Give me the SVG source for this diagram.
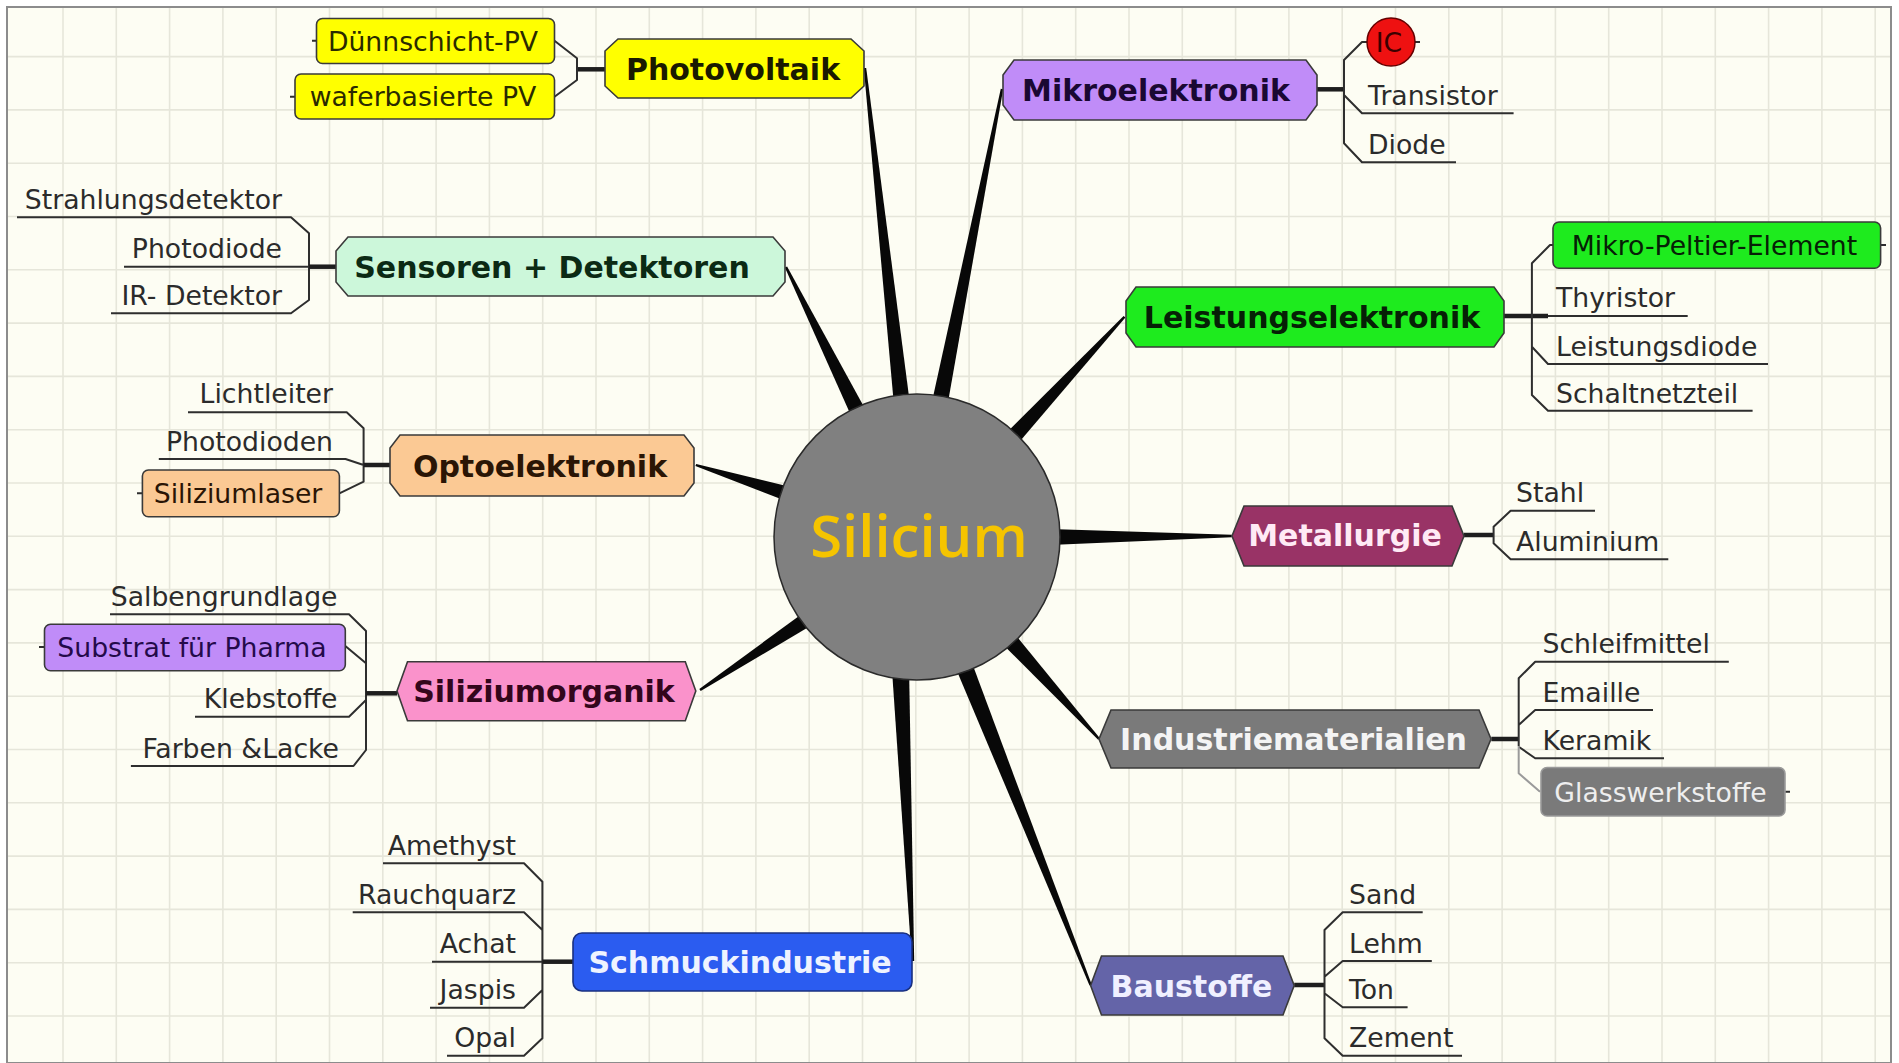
<svg xmlns="http://www.w3.org/2000/svg" width="1899" height="1063" viewBox="0 0 1899 1063">
<style>
.sub{font-family:"DejaVu Sans",Verdana,sans-serif;font-size:26.7px;fill:#2b2b2b}
.main{font-family:"DejaVu Sans",Verdana,sans-serif;font-weight:bold;font-size:30px;text-anchor:middle}
.mid{text-anchor:middle}
.end{text-anchor:end}
.br{fill:none;stroke:#2e2e2e;stroke-width:2;stroke-linejoin:round}
.thick{fill:none;stroke:#1e1e1e;stroke-width:4.5}
.wedge{fill:#080808}
.box{stroke:#3a3a3a;stroke-width:1.6}
.grid{fill:none;stroke:#E6E6DA;stroke-width:1.6}
</style>
<rect x="0" y="0" width="1899" height="1063" fill="#ffffff"/>
<rect x="7" y="7" width="1884" height="1056" fill="#FDFDF3"/>
<path class="grid" d="M63 7V1063M116.3 7V1063M169.6 7V1063M222.9 7V1063M276.2 7V1063M329.5 7V1063M382.8 7V1063M436.1 7V1063M489.4 7V1063M542.7 7V1063M596 7V1063M649.3 7V1063M702.6 7V1063M755.9 7V1063M809.2 7V1063M862.5 7V1063M915.8 7V1063M969.1 7V1063M1022.4 7V1063M1075.7 7V1063M1129 7V1063M1182.3 7V1063M1235.6 7V1063M1288.9 7V1063M1342.2 7V1063M1395.5 7V1063M1448.8 7V1063M1502.1 7V1063M1555.4 7V1063M1608.7 7V1063M1662 7V1063M1715.3 7V1063M1768.6 7V1063M1821.9 7V1063M1875.2 7V1063M7 56.6H1891M7 109.9H1891M7 163.2H1891M7 216.5H1891M7 269.8H1891M7 323.1H1891M7 376.4H1891M7 429.7H1891M7 483H1891M7 536.3H1891M7 589.6H1891M7 642.9H1891M7 696.2H1891M7 749.5H1891M7 802.8H1891M7 856.1H1891M7 909.4H1891M7 962.7H1891M7 1016H1891"/>
<rect x="7" y="7" width="1884" height="1056" fill="none" stroke="#8c8c8c" stroke-width="2"/>

<g id="connectors">
  <polygon class="wedge" points="863.8,68.1 866.2,67.9 910.1,405 894.1,406.8"/>
  <polygon class="wedge" points="1000.8,88.8 1003.2,89.2 946.9,408.4 931.2,405.2"/>
  <polygon class="wedge" points="784.9,267.5 787.1,266.5 867.6,413.4 853.2,420.6"/>
  <polygon class="wedge" points="1123.6,315.9 1125.4,317.5 1016.1,445.7 1004.3,434.9"/>
  <polygon class="wedge" points="695.4,466.1 696.2,463.9 793.7,487.8 789.3,502.2"/>
  <polygon class="wedge" points="1231.8,534.8 1231.8,537.2 1050,545.1 1050,529.1"/>
  <polygon class="wedge" points="700.7,691 699.3,689 804.2,612.2 812.4,624.8"/>
  <polygon class="wedge" points="1099.9,738.2 1098.1,739.8 1001.4,643 1013.2,632.2"/>
  <polygon class="wedge" points="914.2,960.9 911.8,961.1 892.1,671.4 909.1,670.6"/>
  <polygon class="wedge" points="1091.7,984.6 1089.5,985.4 956.4,669.8 972.2,663.6"/>

  <!-- Photovoltaik -->
  <path class="thick" d="M605 69.3H577"/>
  <path class="br" d="M554.5 40.8L577 58.3V80L554.5 96.7"/>
  <!-- Mikroelektronik -->
  <path class="thick" d="M1317 89.3H1344"/>
  <path class="br" d="M1367 42H1362L1344 60V143.3L1362 162.3H1456M1344 95L1362 113.3H1513.6"/>
  <!-- Sensoren -->
  <path class="br" d="M17 217.3H291L309 233.3V300L291 313.3H111M124 266.7H309"/>
  <path class="thick" d="M309 266.7H337"/>
  <!-- Optoelektronik -->
  <path class="br" d="M188 412.3H346.7L363.6 428.3V481.7L339.4 493.3M158.8 459H345.5L363.6 465"/>
  <path class="thick" d="M363.6 465H390"/>
  <!-- Siliziumorganik -->
  <path class="br" d="M110 614.3H349L366 631V750L353.5 766H130.9M345.3 646L366 663.3M366 700L349 716.7H195"/>
  <path class="thick" d="M366 693.3H397"/>
  <!-- Schmuckindustrie -->
  <path class="br" d="M383 863.3H524L542.4 881.7V1038.3L524 1055.7H447M352.7 912.3H524L542.4 930M432 961.7H542.4M542.4 990L524 1007.7H430"/>
  <path class="thick" d="M542.4 961.7H573"/>
  <!-- Leistungselektronik -->
  <path class="thick" d="M1504 316H1548"/>
  <path class="br" d="M1553 245H1550L1531.9 263.3V395L1548 410.7H1752.6M1548 316H1687.7M1531.9 346.7L1548 364H1768"/>
  <!-- Metallurgie -->
  <path class="thick" d="M1464 535H1493.6"/>
  <path class="br" d="M1595 510.7H1510.6L1493.6 526.7V543.3L1510.6 559.3H1668.3"/>
  <!-- Industriematerialien -->
  <path class="thick" d="M1491.3 739H1518.7"/>
  <path class="br" d="M1728.8 661.7H1535.2L1518.7 678.3V746M1518.7 725L1535.2 710H1653M1518.7 746.7L1535.2 758.3H1664"/>
  <path class="br" style="stroke:#9a9a9a" d="M1518.7 746V773.3L1540 791.7"/>
  <!-- Baustoffe -->
  <path class="thick" d="M1294.2 985H1324.5"/>
  <path class="br" d="M1422.7 912.3H1342.7L1324.5 930V1038.3L1342.7 1055.7H1462M1324.5 976.7L1342.7 961H1431.8M1324.5 993.3L1342.7 1007.3H1407.6"/>
  <!-- stubs -->
  <path class="br" d="M312 40.8H317M290 96.7H295M137 493.3H142.4M39 647H44.5M1880.6 245H1886M1785 791.7H1790M1415 42H1420"/>
</g>

<g id="center">
  <circle cx="917" cy="537" r="143" fill="#808080" stroke="#2a2a2a" stroke-width="1.5"/>
  <text x="919" y="557" text-anchor="middle" style="font-family:'Open Sans','DejaVu Sans',sans-serif;font-weight:600;font-size:58px;fill:#F5C400">Silicium</text>
</g>

<g id="photovoltaik">
  <polygon class="box" fill="#FFFF00" points="618,39 851,39 864,51 864,86 851,98 618,98 605,86 605,51"/>
  <text class="main" x="733" y="80" fill="#1a1a00">Photovoltaik</text>
</g>
<g id="duennschicht">
  <rect class="box" x="316.5" y="18.5" width="238" height="45" rx="6" fill="#FFFF00"/>
  <text class="sub mid" x="433" y="51" style="fill:#2a2a00">Dünnschicht-PV</text>
</g>
<g id="waferbasiert">
  <rect class="box" x="295" y="74" width="259.5" height="45" rx="6" fill="#FFFF00"/>
  <text class="sub mid" x="423" y="106" style="fill:#2a2a00">waferbasierte PV</text>
</g>

<g id="mikroelektronik">
  <polygon class="box" fill="#C08CF8" points="1014,60 1306,60 1317,75 1317,105 1306,120 1014,120 1003,105 1003,75"/>
  <text class="main" x="1156" y="101" fill="#1a0833">Mikroelektronik</text>
</g>
<g id="ic">
  <circle cx="1391" cy="42" r="24" fill="#EE1111" stroke="#660000" stroke-width="1.5"/>
  <text class="sub mid" x="1389" y="52" style="fill:#3a0000">IC</text>
</g>
<g id="transistor"><text class="sub" x="1368" y="105">Transistor</text></g>
<g id="diode"><text class="sub" x="1368" y="154">Diode</text></g>

<g id="sensoren">
  <polygon class="box" fill="#CCF7DA" points="348,237 773,237 785,251 785,282 773,296 348,296 336,282 336,251"/>
  <text class="main" x="552" y="278" fill="#0b2a14">Sensoren + Detektoren</text>
</g>
<g id="strahlungsdetektor"><text class="sub end" x="282" y="209">Strahlungsdetektor</text></g>
<g id="photodiode"><text class="sub end" x="282" y="258">Photodiode</text></g>
<g id="irdetektor"><text class="sub end" x="282" y="305">IR- Detektor</text></g>

<g id="leistungselektronik">
  <polygon class="box" fill="#1EEB1E" points="1136,287 1494,287 1504,301 1504,333 1494,347 1136,347 1126,333 1126,301"/>
  <text class="main" x="1312" y="328" fill="#062006">Leistungselektronik</text>
</g>
<g id="peltier">
  <rect class="box" x="1553" y="222" width="327.6" height="46.3" rx="6" fill="#1EEB1E"/>
  <text class="sub mid" x="1714.5" y="255" style="fill:#062006">Mikro-Peltier-Element</text>
</g>
<g id="thyristor"><text class="sub" x="1556" y="307">Thyristor</text></g>
<g id="leistungsdiode"><text class="sub" x="1556" y="356">Leistungsdiode</text></g>
<g id="schaltnetzteil"><text class="sub" x="1556" y="402.5">Schaltnetzteil</text></g>

<g id="optoelektronik">
  <polygon class="box" fill="#FBC994" points="400,435 684,435 694,448 694,483 684,496 400,496 390,483 390,448"/>
  <text class="main" x="540" y="476.5" fill="#2a1505">Optoelektronik</text>
</g>
<g id="lichtleiter"><text class="sub end" x="333" y="403">Lichtleiter</text></g>
<g id="photodioden"><text class="sub end" x="333" y="451">Photodioden</text></g>
<g id="siliziumlaser">
  <rect class="box" x="142.4" y="470" width="197" height="46.7" rx="6" fill="#FBC994"/>
  <text class="sub mid" x="238" y="503" style="fill:#2a1505">Siliziumlaser</text>
</g>

<g id="metallurgie">
  <polygon class="box" fill="#993366" points="1244,506 1452,506 1464,536 1452,566 1244,566 1232,536"/>
  <text class="main" x="1345" y="546" fill="#FFEAF5">Metallurgie</text>
</g>
<g id="stahl"><text class="sub" x="1516" y="502">Stahl</text></g>
<g id="aluminium"><text class="sub" x="1516" y="551">Aluminium</text></g>

<g id="siliziumorganik">
  <polygon class="box" fill="#FA92CB" points="407.5,661.7 685.3,661.7 695.8,691 685.3,720.7 407.5,720.7 397,691"/>
  <text class="main" x="544" y="702" fill="#33061c">Siliziumorganik</text>
</g>
<g id="salbengrundlage"><text class="sub end" x="337.5" y="606">Salbengrundlage</text></g>
<g id="substrat">
  <rect class="box" x="44.5" y="624.3" width="300.8" height="46.4" rx="6" fill="#C08CF8"/>
  <text class="sub mid" x="192" y="657" style="fill:#240a4a">Substrat für Pharma</text>
</g>
<g id="klebstoffe"><text class="sub end" x="337.5" y="708">Klebstoffe</text></g>
<g id="farben"><text class="sub end" x="339" y="757.5">Farben &amp;Lacke</text></g>

<g id="industriematerialien">
  <polygon class="box" fill="#7A7A7A" points="1111,710 1479,710 1491,739 1479,768 1111,768 1099,739"/>
  <text class="main" x="1293.5" y="749.5" fill="#F4F4F4">Industriematerialien</text>
</g>
<g id="schleifmittel"><text class="sub" x="1542.5" y="653">Schleifmittel</text></g>
<g id="emaille"><text class="sub" x="1542.5" y="702">Emaille</text></g>
<g id="keramik"><text class="sub" x="1542.5" y="750">Keramik</text></g>
<g id="glasswerkstoffe">
  <rect class="box" x="1541" y="767.5" width="244" height="48.5" rx="6" fill="#7A7A7A" style="stroke:#9a9a9a"/>
  <text class="sub mid" x="1660.5" y="801.5" style="fill:#EEEEEE">Glasswerkstoffe</text>
</g>

<g id="schmuckindustrie">
  <rect class="box" x="573" y="933" width="339" height="58" rx="9" fill="#2B5CF0" style="stroke:#1a3080"/>
  <text class="main" x="740" y="973" fill="#EEF3FF">Schmuckindustrie</text>
</g>
<g id="amethyst"><text class="sub end" x="516" y="855">Amethyst</text></g>
<g id="rauchquarz"><text class="sub end" x="516" y="904">Rauchquarz</text></g>
<g id="achat"><text class="sub end" x="516" y="953">Achat</text></g>
<g id="jaspis"><text class="sub end" x="516" y="999">Jaspis</text></g>
<g id="opal"><text class="sub end" x="516" y="1047">Opal</text></g>

<g id="baustoffe">
  <polygon class="box" fill="#6464A8" points="1101.5,956 1283,956 1294.2,985.5 1283,1015 1101.5,1015 1090.6,985.5"/>
  <text class="main" x="1191.5" y="996.5" fill="#F0F0FF">Baustoffe</text>
</g>
<g id="sand"><text class="sub" x="1349" y="904">Sand</text></g>
<g id="lehm"><text class="sub" x="1349" y="953">Lehm</text></g>
<g id="ton"><text class="sub" x="1349" y="999">Ton</text></g>
<g id="zement"><text class="sub" x="1349" y="1047">Zement</text></g>
</svg>
